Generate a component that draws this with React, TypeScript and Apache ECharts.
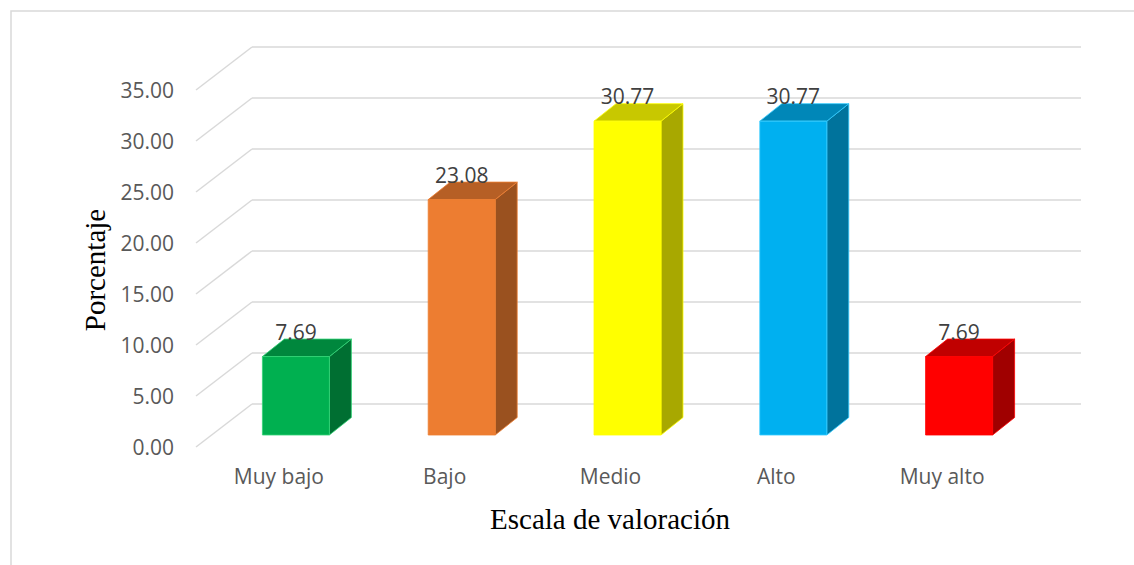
import React, { useEffect, useRef } from "react";
import * as echarts from "echarts";

const categories = ["Muy bajo", "Bajo", "Medio", "Alto", "Muy alto"];
const values = [7.69, 23.08, 30.77, 30.77, 7.69];
const ticks = [0, 5, 10, 15, 20, 25, 30, 35];

const frontColors = ["#00B050", "#ED7D31", "#FFFF00", "#00B0F0", "#FF0000"];
const topColors = ["#00873D", "#B65F25", "#C8C800", "#0087B8", "#C00000"];
const sideColors = ["#006F32", "#9A511F", "#A8A800", "#00739C", "#A00000"];
const edgeColors = ["#33D477", "#ED7D31", "#FFFF00", "#33CCFF", "#FF0000"];

const LABEL_FONT = "'Open Sans', 'Noto Sans', sans-serif";
const SERIF = "'Liberation Serif', 'DejaVu Serif', serif";

export default function App() {
  const ref = useRef<HTMLDivElement>(null);

  useEffect(() => {
    document.body.style.margin = "0";
    const chart = echarts.init(ref.current!, null, { renderer: "svg" });

    // Depth offsets (px): floor front edge relative to back wall
    const wallDx = -56, wallDy = 43;
    const barDx = -39, barDy = 31;
    const depthDx = 22, depthDy = -17.5;
    const barW = 67;

    const option: any = {
      animation: false,
      backgroundColor: "#ffffff",
      grid: [
        { left: 252, right: 53, top: 47, bottom: 161 },
        { left: 196, right: 109, top: 90, bottom: 118 },
      ],
      xAxis: [
        {
          type: "category",
          gridIndex: 0,
          data: categories,
          axisLine: { show: false },
          axisTick: { show: false },
          axisLabel: { show: false },
        },
        {
          type: "category",
          gridIndex: 1,
          data: categories,
          axisLine: { show: false },
          axisTick: { show: false },
          axisLabel: {
            color: "#595959",
            fontSize: 21,
            fontFamily: LABEL_FONT,
            margin: 18,
          },
        },
      ],
      yAxis: [
        {
          type: "value",
          gridIndex: 0,
          min: 0,
          max: 35,
          interval: 5,
          axisLine: { show: false },
          axisTick: { show: false },
          axisLabel: { show: false },
          splitLine: { lineStyle: { color: "#D9D9D9", width: 1.5 } },
        },
        {
          type: "value",
          gridIndex: 1,
          min: 0,
          max: 35,
          interval: 5,
          axisLine: { show: false },
          axisTick: { show: false },
          splitLine: { show: false },
          axisLabel: {
            color: "#595959",
            fontSize: 21,
            fontFamily: LABEL_FONT,
            margin: 22,
            formatter: (v: number) => v.toFixed(2),
          },
        },
      ],
      graphic: [
        {
          type: "rect",
          shape: { x: 11, y: 11, width: 1200, height: 600 },
          style: { fill: "none", stroke: "#D9D9D9", lineWidth: 1.5 },
          silent: true,
        },
        {
          type: "text",
          x: 95,
          y: 270,
          rotation: Math.PI / 2,
          style: {
            text: "Porcentaje",
            fill: "#000000",
            fontSize: 29,
            fontFamily: SERIF,
            textAlign: "center",
            textVerticalAlign: "middle",
          },
        },
        {
          type: "text",
          x: 610,
          y: 519,
          style: {
            text: "Escala de valoración",
            fill: "#000000",
            fontSize: 29,
            fontFamily: SERIF,
            textAlign: "center",
            textVerticalAlign: "middle",
          },
        },
      ],
      series: [
        {
          type: "custom",
          name: "floor-lines",
          xAxisIndex: 0,
          yAxisIndex: 0,
          silent: true,
          data: ticks.map((t) => [0, t]),
          encode: { x: 0, y: 1 },
          renderItem: (params: any, api: any) => {
            const y = api.coord([0, api.value(1)])[1];
            const x0 = params.coordSys.x;
            return {
              type: "line",
              shape: { x1: x0, y1: y, x2: x0 + wallDx, y2: y + wallDy },
              style: { stroke: "#D9D9D9", lineWidth: 1.5 },
            };
          },
        },
        {
          type: "custom",
          name: "Porcentaje",
          xAxisIndex: 0,
          yAxisIndex: 0,
          data: values.map((v, i) => [i, v]),
          encode: { x: 0, y: 1 },
          renderItem: (params: any, api: any) => {
            const i = api.value(0);
            const v = api.value(1);
            const top = api.coord([i, v]);
            const base = api.coord([i, 0]);
            const cx = top[0] + barDx;
            const x1 = cx - barW / 2;
            const x2 = cx + barW / 2;
            const yTop = top[1] + barDy;
            const yBot = base[1] + barDy;
            const edge = edgeColors[i];
            return {
              type: "group",
              children: [
                {
                  type: "polygon",
                  shape: {
                    points: [
                      [x2, yTop],
                      [x2 + depthDx, yTop + depthDy],
                      [x2 + depthDx, yBot + depthDy],
                      [x2, yBot],
                    ],
                  },
                  style: { fill: sideColors[i], stroke: edge, lineWidth: 0.8 },
                },
                {
                  type: "polygon",
                  shape: {
                    points: [
                      [x1, yTop],
                      [x1 + depthDx, yTop + depthDy],
                      [x2 + depthDx, yTop + depthDy],
                      [x2, yTop],
                    ],
                  },
                  style: { fill: topColors[i], stroke: edge, lineWidth: 0.8 },
                },
                {
                  type: "rect",
                  shape: { x: x1, y: yTop, width: barW, height: yBot - yTop },
                  style: { fill: frontColors[i], stroke: edge, lineWidth: 0.8 },
                },
                {
                  type: "text",
                  x: cx,
                  y: yTop - 25,
                  style: {
                    text: v.toFixed(2),
                    fill: "#404040",
                    fontSize: 21,
                    fontFamily: LABEL_FONT,
                    textAlign: "center",
                    textVerticalAlign: "middle",
                  },
                },
              ],
            };
          },
        },
      ],
    };

    chart.setOption(option);
    return () => chart.dispose();
  }, []);

  return (
    <div
      ref={ref}
      style={{ position: "fixed", left: 0, top: 0, width: 1134, height: 565 }}
    />
  );
}
